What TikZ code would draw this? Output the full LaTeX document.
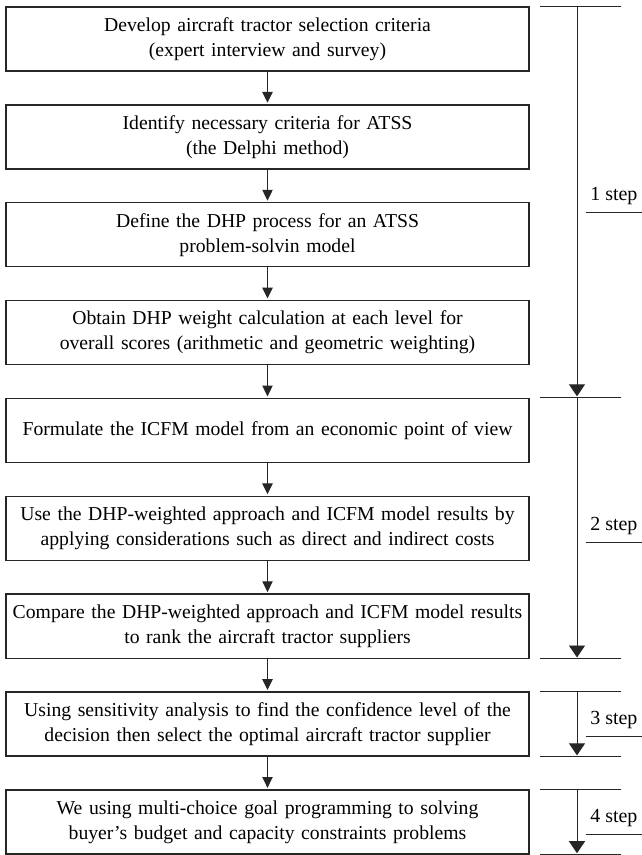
\documentclass[tikz,border=0pt]{standalone}
\usepackage{fontspec}
\setmainfont{Liberation Serif}
\usepackage{tikz}
\usetikzlibrary{shapes.geometric, arrows, arrows.meta, positioning, calc}
\tikzstyle{process} = [rectangle, minimum width=13.075cm, minimum height=1.6cm, text width=13.02cm, inner xsep=0.01cm, align=center, draw=black!85, line width=1pt, font=\fontsize{14}{17.8}\selectfont]
\tikzstyle{arrow} = [line width=0.7pt, draw=black!85, shorten >=1pt, -{Triangle[length=0.27cm, width=0.26cm]}]
\tikzstyle{steparrow} = [line width=0.7pt, draw=black!85, shorten >=1pt, -{Triangle[length=0.3cm, width=0.4cm]}]
\tikzstyle{tick} = [line width=0.7pt, draw=black!85]
\tikzstyle{steplabel} = [anchor=south west, inner xsep=0.1cm, inner ysep=0.17cm, font=\fontsize{14.2}{17.8}\selectfont]

\begin{document}
\begin{tikzpicture}[x=0.025cm, y=-0.025cm, node distance=2.446cm]
\useasboundingbox (0,0) rectangle (641,855);
% Stages
\node (develop) [process] at (267.5,39) {Develop aircraft tractor selection criteria\\(expert interview and survey)};
\node (identify) [process, below of=develop] {Identify necessary criteria for ATSS\\(the Delphi method)};
\node (define) [process, below of=identify] {Define the DHP process for an ATSS\\problem-solvin model};
\node (obtain) [process, below of=define] {Obtain DHP weight calculation at each level for\\overall scores (arithmetic and geometric weighting)};
\node (formulate) [process, below of=obtain] {Formulate the ICFM model from an economic point of view};
\node (use) [process, below of=formulate] {Use the DHP-weighted approach and ICFM model results by\\applying considerations such as direct and indirect costs};
\node (compare) [process, below of=use] {Compare the DHP-weighted approach and ICFM model results\\to rank the aircraft tractor suppliers};
\node (sensitivity) [process, below of=compare] {Using sensitivity analysis to find the confidence level of the\\decision then select the optimal aircraft tractor supplier};
\node (goal) [process, below of=sensitivity] {We using multi-choice goal programming to solving\\buyer’s budget and capacity constraints problems};

% Flow
\draw [arrow] (develop) -- (identify);
\draw [arrow] (identify) -- (define);
\draw [arrow] (define) -- (obtain);
\draw [arrow] (obtain) -- (formulate);
\draw [arrow] (formulate) -- (use);
\draw [arrow] (use) -- (compare);
\draw [arrow] (compare) -- (sensitivity);
\draw [arrow] (sensitivity) -- (goal);

% Step brackets
\coordinate (s1top) at (develop.north -| 577,0);
\coordinate (s1end) at (formulate.north -| 577,0);
\coordinate (s2end) at (compare.south -| 577,0);
\coordinate (s3top) at (sensitivity.north -| 577,0);
\coordinate (s3end) at (sensitivity.south -| 577,0);
\coordinate (s4top) at (goal.north -| 577,0);
\coordinate (s4end) at (goal.south -| 577,0);
\foreach \t in {s1top,s1end,s2end,s3top,s3end,s4top,s4end}
  \draw [tick] ($(\t)+(-37,0)$) -- ($(\t)+(44,0)$);
\draw [steparrow] (s1top) -- (s1end);
\draw [steparrow] (s1end) -- (s2end);
\draw [steparrow] (s3top) -- (s3end);
\draw [steparrow] (s4top) -- (s4end);

% Step labels
\node (step1) [steplabel] at (586,212) {1 step};
\node (step2) [steplabel] at (586,542) {2 step};
\node (step3) [steplabel] at (586,736) {3 step};
\node (step4) [steplabel] at (586,834) {4 step};
\foreach \l in {step1,step2,step3,step4}
  \draw [tick] (\l.south west) -- (\l.south east);
\end{tikzpicture}
\end{document}
